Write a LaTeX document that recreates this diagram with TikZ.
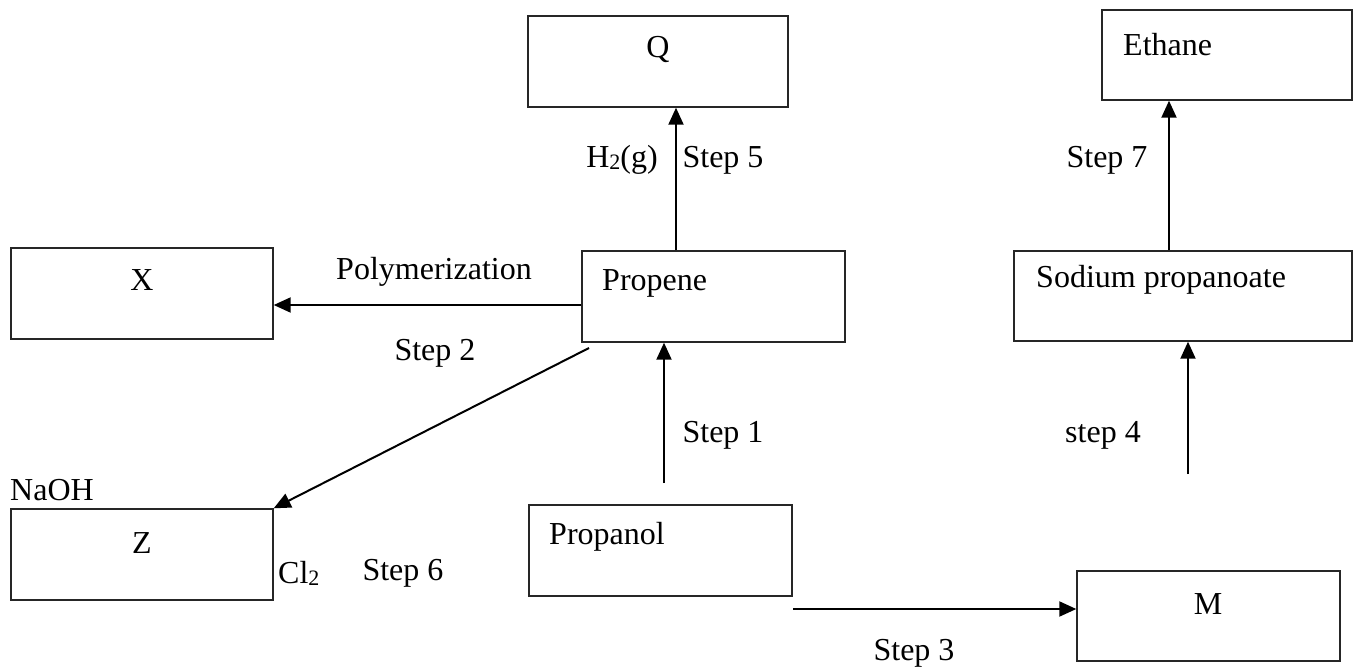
\documentclass[tikz,border=0pt]{standalone}
\usepackage{fontspec}
\setmainfont{Liberation Serif}
\usetikzlibrary{arrows.meta}
\tikzset{
  box/.style={draw=black!85, line width=1.4pt, rectangle, inner sep=0pt},
  txt/.style={inner sep=0pt, font=\fontsize{32}{38}\selectfont},
  arr/.style={line width=2pt, -{Triangle[length=17pt,width=15pt]}},
}
\begin{document}
\begin{tikzpicture}[x=1pt,y=-1pt]
\useasboundingbox (0,0) rectangle (1356,669);
% boxes
\node[box, minimum width=260pt, minimum height=91pt] (Q) at (658,61.5) {};
\node[box, minimum width=250pt, minimum height=90pt] (Ethane) at (1227,55) {};
\node[box, minimum width=262pt, minimum height=91pt] (X) at (142,293.5) {};
\node[box, minimum width=263pt, minimum height=91pt] (Propene) at (713.5,296.5) {};
\node[box, minimum width=338pt, minimum height=90pt] (Sodium) at (1183,296) {};
\node[box, minimum width=262pt, minimum height=91pt] (Z) at (142,554.5) {};
\node[box, minimum width=263pt, minimum height=91pt] (Propanol) at (660.5,550.5) {};
\node[box, minimum width=263pt, minimum height=90pt] (M) at (1208.5,616) {};
% box texts
\node[txt] (tQ) at (658,50) {Q};
\node[txt, anchor=west] (tEthane) at (1123,45) {Ethane};
\node[txt] (tX) at (142,280) {X};
\node[txt, anchor=west] (tPropene) at (602,283) {Propene};
\node[txt, anchor=west] (tSodium) at (1036,280) {Sodium propanoate};
\node[txt] (tZ) at (142,543) {Z};
\node[txt, anchor=west] (tPropanol) at (549,537) {Propanol};
\node[txt] (tM) at (1208,604) {M};
% helper coordinates
\coordinate (a5) at (676,0);
\coordinate (a7) at (1169,0);
\coordinate (yp) at (0,305);
\coordinate (s2) at (589,348);
\coordinate (s1) at (664,483);
\coordinate (s4) at (1188,474);
\coordinate (s3) at (793,609);
% connectors
\draw[arr] (Propene.north -| a5) -- (Q.south -| a5);
\draw[arr] (Sodium.north -| a7) -- (Ethane.south -| a7);
\draw[arr] (Propene.west |- yp) -- (X.east |- yp);
\draw[arr] (s2) -- (Z.north east);
\draw[arr] (s1) -- (s1 |- Propene.south);
\draw[arr] (s4) -- (s4 |- Sodium.south);
\draw[arr] (s3) -- (s3 -| M.west);
% labels
\node[txt] (lH2) at (622,160) {H{\fontsize{22}{26}\selectfont\raisebox{-0.1em}{2}}(g)};
\node[txt] (l5) at (723,160) {Step 5};
\node[txt] (l7) at (1107,160) {Step 7};
\node[txt] (lPoly) at (434,272) {Polymerization};
\node[txt] (l2) at (435,353) {Step 2};
\node[txt] (lNaOH) at (52,490) {NaOH};
\node[txt, anchor=west] (lCl) at (278,573) {Cl{\fontsize{22}{26}\selectfont\raisebox{-0.1em}{2}}};
\node[txt] (l6) at (403,573) {Step 6};
\node[txt] (l1) at (723,435) {Step 1};
\node[txt] (l4) at (1103,435) {step 4};
\node[txt] (l3) at (914,653) {Step 3};
\end{tikzpicture}
\end{document}
